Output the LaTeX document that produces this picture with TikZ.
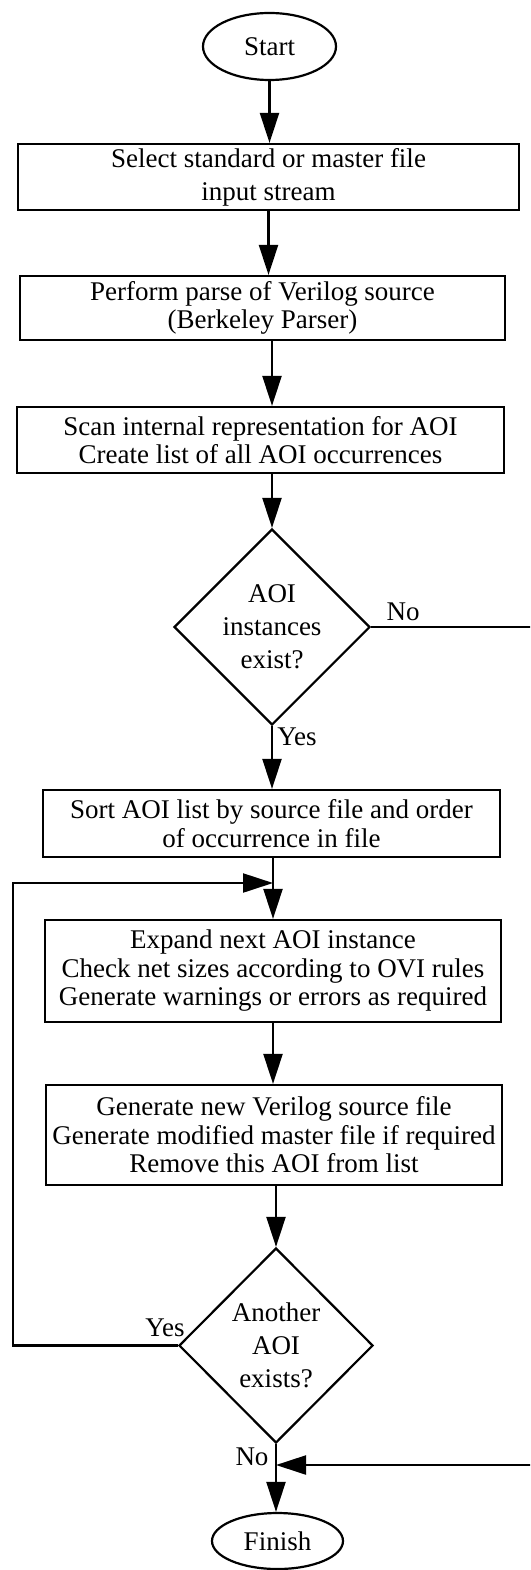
\documentclass[tikz,border=0pt]{standalone}
\usepackage{fontspec}
\setmainfont{Liberation Serif}
\usetikzlibrary{shapes.geometric,arrows.meta}
\begin{document}
\begin{tikzpicture}[x=1pt,y=-1pt,
  line width=2.2pt,
  every node/.style={font=\fontsize{27}{28.5}\selectfont},
  box/.style={draw, rectangle, inner sep=0pt, align=center},
  term/.style={draw, ellipse, inner sep=0pt},
  dec/.style={draw, diamond, inner sep=0pt, aspect=1, align=center, font=\fontsize{27}{33}\selectfont},
  arr/.style={-{Triangle[length=30pt,width=19pt]}},
  lbl/.style={inner sep=0pt}]
\clip (0,0) rectangle (530,1570);
% nodes
\node[term, minimum width=133pt, minimum height=67pt] (start) at (269.5,46.5) {Start};
\node[box, minimum width=501pt, minimum height=66pt, font=\fontsize{27}{33}\selectfont] (b1) at (268.5,177) {Select standard or master file\\input stream};
\node[box, minimum width=485pt, minimum height=64pt] (b2) at (262.5,308) {Perform parse of Verilog source\\(Berkeley Parser)};
\node[box, minimum width=487pt, minimum height=66pt] (b3) at (260.5,440) {Scan internal representation for AOI\\Create list of all AOI occurrences};
\node[dec, minimum width=196pt, minimum height=196pt] (d1) at (272,627) {AOI\\instances\\exist?};
\node[box, minimum width=457pt, minimum height=67pt] (b4) at (271.5,823.5) {Sort AOI list by source file and order\\of occurrence in file};
\node[box, minimum width=456pt, minimum height=102pt] (b5) at (273,971) {Expand next AOI instance\\Check net sizes according to OVI rules\\Generate warnings or errors as required};
\node[box, minimum width=456pt, minimum height=100pt] (b6) at (274,1135) {Generate new Verilog source file\\Generate modified master file if required\\Remove this AOI from list};
\node[dec, minimum width=194pt, minimum height=195pt] (d2) at (276,1345.5) {Another\\AOI\\exists?};
\node[term, minimum width=131pt, minimum height=56pt] (fin) at (277.5,1541) {Finish};
% labels
\node[lbl] (no1) at (403,612) {No};
\node[lbl] (yes1) at (297,737) {Yes};
\node[lbl] (yes2) at (165,1328) {Yes};
\node[lbl] (no2) at (252,1457) {No};
% coordinates
\coordinate (loopin) at (273,883);
\coordinate (lc1) at (13,1345.5);
\coordinate (lc2) at (13,883);
\coordinate (rc1) at (536,627);
\coordinate (rc2) at (536,1465);
\coordinate (noin) at (276,1465);
% connectors
\draw[arr] (start) -- (start |- b1.north);
\draw[arr] (b1.south) -- (b1.south |- b2.north);
\draw[arr] (b2.south -| d1) -- (b3.north -| d1);
\draw[arr] (b3.south -| d1) -- (d1.north);
\draw[arr] (d1.south) -- (d1.south |- b4.north);
\draw[arr] (b4.south -| b5) -- (b5.north);
\draw[arr] (b5.south) -- (b5.south |- b6.north);
\draw[arr] (b6.south -| d2) -- (d2.north);
\draw[arr] (d2.south) -- (d2.south |- fin.north);
\draw[arr] (d2.west) -- (lc1) -- (lc2) -- (loopin);
\draw[arr] (d1.east) -- (rc1) -- (rc2) -- (noin);
\end{tikzpicture}
\end{document}
